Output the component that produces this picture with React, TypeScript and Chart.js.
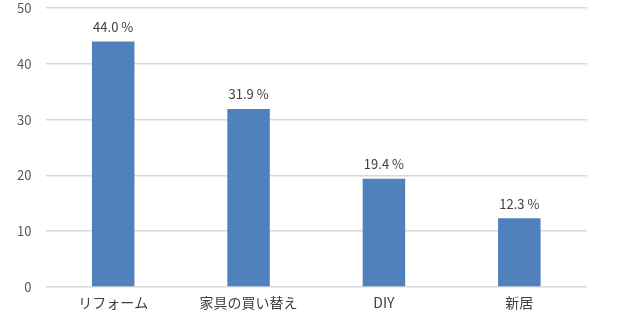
import React, { useEffect, useRef } from "react";
import { Chart, registerables } from "chart.js";

Chart.register(...registerables);

const categories = ["リフォーム", "家具の買い替え", "DIY", "新居"];
const values = [44.0, 31.9, 19.4, 12.3];
const yTicks = [0, 10, 20, 30, 40, 50];

const FONT = "'Noto Sans CJK JP', 'Noto Sans', sans-serif";

const valueLabelPlugin = {
  id: "valueLabels",
  afterDatasetsDraw(chart: any) {
    const ctx = chart.ctx;
    const meta = chart.getDatasetMeta(0);
    ctx.save();
    ctx.font = `13px ${FONT}`;
    ctx.fillStyle = "#404040";
    ctx.textAlign = "center";
    ctx.textBaseline = "bottom";
    meta.data.forEach((bar: any, i: number) => {
      ctx.fillText(values[i].toFixed(1) + " %", bar.x, bar.y - 8);
    });
    ctx.restore();
  },
};

export default function App() {
  const ref = useRef<HTMLCanvasElement | null>(null);
  useEffect(() => {
    if (!ref.current) return;
    const chart = new Chart(ref.current, {
      type: "bar",
      data: {
        labels: categories,
        datasets: [
          {
            data: values,
            backgroundColor: "#4f81bd",
            borderWidth: 0,
            barPercentage: 0.314,
            categoryPercentage: 1,
          },
        ],
      },
      options: {
        responsive: false,
        animation: false,
        layout: { padding: { left: 0, right: 53, top: 8, bottom: 0 } },
        plugins: {
          legend: { display: false },
          tooltip: { enabled: false },
        },
        scales: {
          x: {
            grid: { display: false, drawTicks: false },
            border: { display: false },
            ticks: {
              color: "#404040",
              font: { family: FONT, size: 14 },
              padding: 7,
              maxRotation: 0,
            },
            afterFit(scale: any) {
              scale.height = 33;
            },
          },
          y: {
            min: 0,
            max: 50,
            afterBuildTicks(scale: any) {
              scale.ticks = yTicks.map((v) => ({ value: v }));
            },
            grid: { color: "#d9d9d9", lineWidth: 1.5, drawTicks: false },
            border: { display: false },
            ticks: {
              color: "#595959",
              font: { family: FONT, size: 13 },
              padding: 14,
            },
            afterFit(scale: any) {
              scale.width = 45.5;
              scale.paddingTop = 0;
              scale.paddingBottom = 0;
            },
          },
        },
      },
      plugins: [valueLabelPlugin],
    });
    return () => chart.destroy();
  }, []);
  return (
    <div style={{ position: "fixed", left: 0, top: 0, width: 640, height: 320, background: "#fff" }}>
      <canvas ref={ref} width={640} height={320} style={{ width: 640, height: 320 }} />
    </div>
  );
}
